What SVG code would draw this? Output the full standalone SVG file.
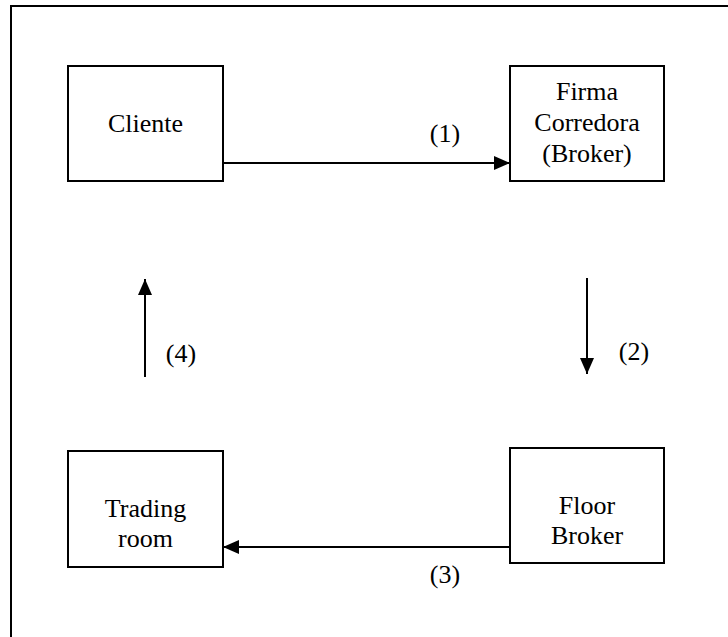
<svg xmlns="http://www.w3.org/2000/svg" width="728" height="637" viewBox="0 0 728 637">
<style>
.box{fill:#fff;stroke:#000;stroke-width:2}
.c{stroke:#000;stroke-width:2;fill:none}
</style>
<defs>
<marker id="ah" markerWidth="16" markerHeight="14" refX="16" refY="7" orient="auto" markerUnits="userSpaceOnUse">
<path d="M0,0 L16,7 L0,14 Z" fill="#000"/>
</marker>
</defs>
<rect width="728" height="637" fill="#fff"/>
<path d="M11,637 V6 H728" fill="none" stroke="#000" stroke-width="2"/>
<g font-family="Liberation Serif, Times New Roman, serif" font-size="26" text-anchor="middle" fill="#000">
<g id="cliente">
<rect class="box" x="68" y="66" width="155" height="115"/>
<text x="145.5" y="132">Cliente</text>
</g>
<g id="firma">
<rect class="box" x="510" y="66" width="154" height="115"/>
<text x="587" y="100">Firma</text>
<text x="587" y="131">Corredora</text>
<text x="587" y="162">(Broker)</text>
</g>
<g id="floor">
<rect class="box" x="510" y="448" width="154" height="115"/>
<text x="587" y="514">Floor</text>
<text x="587" y="544">Broker</text>
</g>
<g id="trading">
<rect class="box" x="68" y="451" width="155" height="116"/>
<text x="145.5" y="517">Trading</text>
<text x="145.5" y="547">room</text>
</g>
<g id="connectors">
<line class="c" x1="223" y1="163" x2="510" y2="163" marker-end="url(#ah)"/>
<line class="c" x1="587" y1="278" x2="587" y2="374" marker-end="url(#ah)"/>
<line class="c" x1="510" y1="547" x2="223" y2="547" marker-end="url(#ah)"/>
<line class="c" x1="145" y1="377" x2="145" y2="279" marker-end="url(#ah)"/>
<text x="445" y="142">(1)</text>
<text x="634" y="360">(2)</text>
<text x="445" y="583">(3)</text>
<text x="181" y="362">(4)</text>
</g>
</g>
</svg>
